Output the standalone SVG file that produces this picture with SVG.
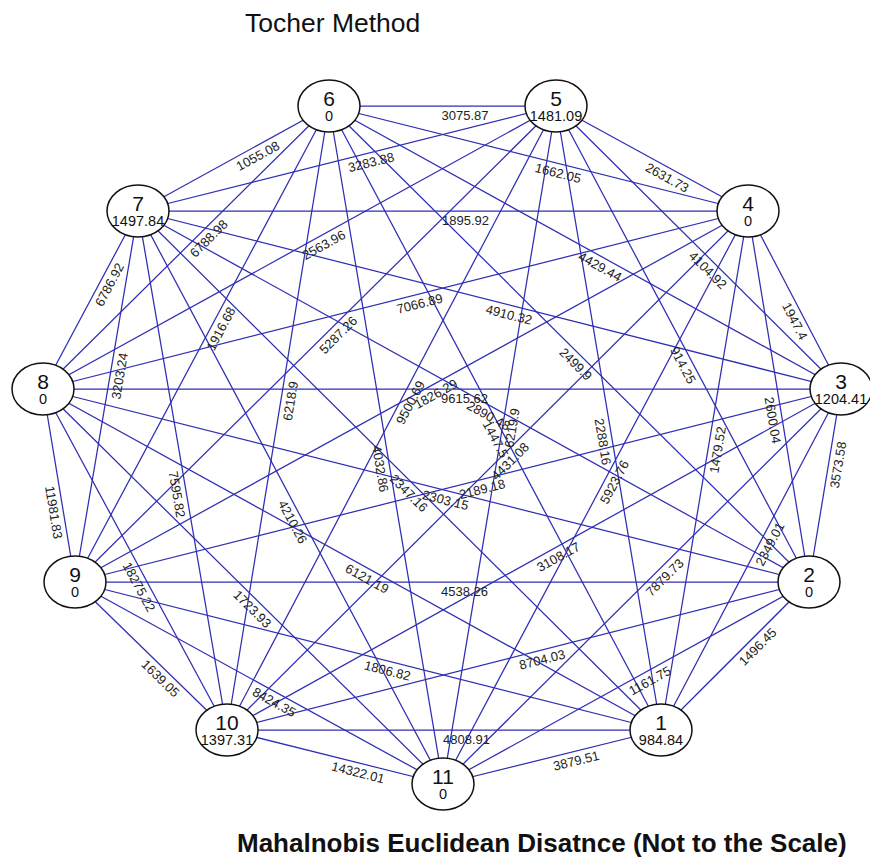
<svg xmlns="http://www.w3.org/2000/svg" width="870" height="861" viewBox="0 0 870 861">
<style>
.e line{stroke:#2e2eb4;stroke-width:1.25}
.n ellipse{fill:#fff;stroke:#111;stroke-width:1.5}
.num{font-family:"Liberation Sans",Arial,sans-serif;font-size:21px;text-anchor:middle;fill:#111}
.val{font-family:"Liberation Sans",Arial,sans-serif;font-size:14.5px;text-anchor:middle;fill:#111}
.lbl text{font-family:"Liberation Sans",Arial,sans-serif;font-size:13px;fill:#222}
.t1{font-family:"Liberation Sans",Arial,sans-serif;font-size:26.5px;fill:#111}
.t2{font-family:"Liberation Sans",Arial,sans-serif;font-size:26px;font-weight:bold;fill:#111}
</style>
<rect width="870" height="861" fill="#fff"/>
<text class="t1" x="245" y="32">Tocher Method</text>
<g id="connectors" class="e">
<line x1="661" y1="730" x2="809" y2="582"/>
<line x1="809" y1="582" x2="841" y2="389"/>
<line x1="841" y1="389" x2="748" y2="211"/>
<line x1="748" y1="211" x2="556" y2="106"/>
<line x1="556" y1="106" x2="329" y2="106"/>
<line x1="329" y1="106" x2="138" y2="211"/>
<line x1="138" y1="211" x2="43" y2="389"/>
<line x1="43" y1="389" x2="75" y2="582"/>
<line x1="75" y1="582" x2="227" y2="730"/>
<line x1="227" y1="730" x2="443" y2="784"/>
<line x1="443" y1="784" x2="661" y2="730"/>
<line x1="661" y1="730" x2="841" y2="389"/>
<line x1="809" y1="582" x2="748" y2="211"/>
<line x1="841" y1="389" x2="556" y2="106"/>
<line x1="748" y1="211" x2="329" y2="106"/>
<line x1="556" y1="106" x2="138" y2="211"/>
<line x1="329" y1="106" x2="43" y2="389"/>
<line x1="138" y1="211" x2="75" y2="582"/>
<line x1="43" y1="389" x2="227" y2="730"/>
<line x1="75" y1="582" x2="443" y2="784"/>
<line x1="227" y1="730" x2="661" y2="730"/>
<line x1="443" y1="784" x2="809" y2="582"/>
<line x1="661" y1="730" x2="748" y2="211"/>
<line x1="809" y1="582" x2="556" y2="106"/>
<line x1="841" y1="389" x2="329" y2="106"/>
<line x1="748" y1="211" x2="138" y2="211"/>
<line x1="556" y1="106" x2="43" y2="389"/>
<line x1="329" y1="106" x2="75" y2="582"/>
<line x1="138" y1="211" x2="227" y2="730"/>
<line x1="43" y1="389" x2="443" y2="784"/>
<line x1="75" y1="582" x2="661" y2="730"/>
<line x1="227" y1="730" x2="809" y2="582"/>
<line x1="443" y1="784" x2="841" y2="389"/>
<line x1="661" y1="730" x2="556" y2="106"/>
<line x1="809" y1="582" x2="329" y2="106"/>
<line x1="841" y1="389" x2="138" y2="211"/>
<line x1="748" y1="211" x2="43" y2="389"/>
<line x1="556" y1="106" x2="75" y2="582"/>
<line x1="329" y1="106" x2="227" y2="730"/>
<line x1="138" y1="211" x2="443" y2="784"/>
<line x1="43" y1="389" x2="661" y2="730"/>
<line x1="75" y1="582" x2="809" y2="582"/>
<line x1="227" y1="730" x2="841" y2="389"/>
<line x1="443" y1="784" x2="748" y2="211"/>
<line x1="661" y1="730" x2="329" y2="106"/>
<line x1="809" y1="582" x2="138" y2="211"/>
<line x1="841" y1="389" x2="43" y2="389"/>
<line x1="748" y1="211" x2="75" y2="582"/>
<line x1="556" y1="106" x2="227" y2="730"/>
<line x1="329" y1="106" x2="443" y2="784"/>
<line x1="138" y1="211" x2="661" y2="730"/>
<line x1="43" y1="389" x2="809" y2="582"/>
<line x1="75" y1="582" x2="841" y2="389"/>
<line x1="227" y1="730" x2="748" y2="211"/>
<line x1="443" y1="784" x2="556" y2="106"/>
</g>
<g id="edge-labels" class="lbl">
<text transform="translate(735,656) rotate(-45)" x="-1" y="14">1496.45</text>
<text transform="translate(825,485.5) rotate(-80.59)" x="-1" y="14">3573.58</text>
<text transform="translate(794.5,300) rotate(62.41)" x="-1" y="14">1947.4</text>
<text transform="translate(652,158.5) rotate(28.67)" x="-1" y="14">2631.73</text>
<text transform="translate(442.5,106)" x="-1" y="14">3075.87</text>
<text transform="translate(233.5,158.5) rotate(-28.8)" x="-1" y="14">1055.08</text>
<text transform="translate(90.5,300) rotate(-61.91)" x="-1" y="14">6786.92</text>
<text transform="translate(59,485.5) rotate(80.59)" x="-1" y="14">11981.83</text>
<text transform="translate(151,656) rotate(44.24)" x="-1" y="14">1639.05</text>
<text transform="translate(335,757) rotate(14.04)" x="-1" y="14">14322.01</text>
<text transform="translate(552,757) rotate(-13.91)" x="-1" y="14">3879.51</text>
<text transform="translate(751,559.5) rotate(-62.17)" x="-1" y="14">2349.01</text>
<text transform="translate(778.5,396.5) rotate(80.66)" x="-1" y="14">2600.04</text>
<text transform="translate(698.5,247.5) rotate(44.8)" x="-1" y="14">4104.92</text>
<text transform="translate(538.5,158.5) rotate(14.07)" x="-1" y="14">1662.05</text>
<text transform="translate(347,158.5) rotate(-14.1)" x="-1" y="14">3283.88</text>
<text transform="translate(186,247.5) rotate(-44.7)" x="-1" y="14">6788.98</text>
<text transform="translate(106.5,396.5) rotate(-80.36)" x="-1" y="14">3203.24</text>
<text transform="translate(135,559.5) rotate(61.65)" x="-1" y="14">18275.22</text>
<text transform="translate(259,683) rotate(28.77)" x="-1" y="14">8424.35</text>
<text transform="translate(444,730)" x="-1" y="14">4808.91</text>
<text transform="translate(626,683) rotate(-28.89)" x="-1" y="14">1161.75</text>
<text transform="translate(704.5,470.5) rotate(-80.49)" x="-1" y="14">1479.52</text>
<text transform="translate(682.5,344) rotate(62.01)" x="-1" y="14">914.25</text>
<text transform="translate(585,247.5) rotate(28.93)" x="-1" y="14">4429.44</text>
<text transform="translate(443,211)" x="-1" y="14">1895.92</text>
<text transform="translate(299.5,247.5) rotate(-28.88)" x="-1" y="14">2563.96</text>
<text transform="translate(202,344) rotate(-61.92)" x="-1" y="14">1916.68</text>
<text transform="translate(182.5,470.5) rotate(80.27)" x="-1" y="14">7595.82</text>
<text transform="translate(243,586.5) rotate(44.64)" x="-1" y="14">1723.93</text>
<text transform="translate(368,656) rotate(14.17)" x="-1" y="14">1806.82</text>
<text transform="translate(518,656) rotate(-14.27)" x="-1" y="14">8704.03</text>
<text transform="translate(642,586.5) rotate(-44.78)" x="-1" y="14">7879.73</text>
<text transform="translate(608.5,418) rotate(80.45)" x="-1" y="14">2288.16</text>
<text transform="translate(569,344) rotate(44.76)" x="-1" y="14">2499.9</text>
<text transform="translate(489.5,300) rotate(14.21)" x="-1" y="14">4910.32</text>
<text transform="translate(395.5,300) rotate(-14.17)" x="-1" y="14">7066.89</text>
<text transform="translate(315.5,344) rotate(-44.7)" x="-1" y="14">5287.26</text>
<text transform="translate(278,418) rotate(-80.72)" x="-1" y="14">6218.9</text>
<text transform="translate(290.5,497.5) rotate(61.97)" x="-1" y="14">4210.26</text>
<text transform="translate(352,559.5) rotate(28.89)" x="-1" y="14">6121.19</text>
<text transform="translate(442,582)" x="-1" y="14">4538.26</text>
<text transform="translate(534,559.5) rotate(-29.05)" x="-1" y="14">3108.17</text>
<text transform="translate(595.5,497.5) rotate(-61.97)" x="-1" y="14">5923.76</text>
<text transform="translate(495,418) rotate(61.99)" x="-1" y="14">1447.5</text>
<text transform="translate(473.5,396.5) rotate(28.94)" x="-1" y="14">2890.48</text>
<text transform="translate(442,389)" x="-1" y="14">9615.62</text>
<text transform="translate(411.5,396.5) rotate(-28.86)" x="-1" y="14">1826.29</text>
<text transform="translate(391.5,418) rotate(-62.2)" x="-1" y="14">9500.69</text>
<text transform="translate(386,445) rotate(80.46)" x="-1" y="14">4032.86</text>
<text transform="translate(399.5,470.5) rotate(44.78)" x="-1" y="14">2347.16</text>
<text transform="translate(426,485.5) rotate(14.14)" x="-1" y="14">2303.15</text>
<text transform="translate(458,485.5) rotate(-14.14)" x="-1" y="14">2189.18</text>
<text transform="translate(487.5,470.5) rotate(-44.89)" x="-1" y="14">4431.08</text>
<text transform="translate(499.5,445) rotate(-80.54)" x="-1" y="14">6219.9</text>
</g>
<g id="node1" class="n"><ellipse cx="661" cy="730" rx="31" ry="26"/><text class="num" x="661" y="730">1</text><text class="val" x="661" y="745">984.84</text></g>
<g id="node2" class="n"><ellipse cx="809" cy="582" rx="31" ry="26"/><text class="num" x="809" y="582">2</text><text class="val" x="809" y="597">0</text></g>
<g id="node3" class="n"><ellipse cx="841" cy="389" rx="31" ry="26"/><text class="num" x="841" y="389">3</text><text class="val" x="841" y="404">1204.41</text></g>
<g id="node4" class="n"><ellipse cx="748" cy="211" rx="31" ry="26"/><text class="num" x="748" y="211">4</text><text class="val" x="748" y="226">0</text></g>
<g id="node5" class="n"><ellipse cx="556" cy="106" rx="31" ry="26"/><text class="num" x="556" y="106">5</text><text class="val" x="556" y="121">1481.09</text></g>
<g id="node6" class="n"><ellipse cx="329" cy="106" rx="31" ry="26"/><text class="num" x="329" y="106">6</text><text class="val" x="329" y="121">0</text></g>
<g id="node7" class="n"><ellipse cx="138" cy="211" rx="31" ry="26"/><text class="num" x="138" y="211">7</text><text class="val" x="138" y="226">1497.84</text></g>
<g id="node8" class="n"><ellipse cx="43" cy="389" rx="31" ry="26"/><text class="num" x="43" y="389">8</text><text class="val" x="43" y="404">0</text></g>
<g id="node9" class="n"><ellipse cx="75" cy="582" rx="31" ry="26"/><text class="num" x="75" y="582">9</text><text class="val" x="75" y="597">0</text></g>
<g id="node10" class="n"><ellipse cx="227" cy="730" rx="31" ry="26"/><text class="num" x="227" y="730">10</text><text class="val" x="227" y="745">1397.31</text></g>
<g id="node11" class="n"><ellipse cx="443" cy="784" rx="31" ry="26"/><text class="num" x="443" y="784">11</text><text class="val" x="443" y="799">0</text></g>
<text class="t2" x="237" y="852">Mahalnobis Euclidean Disatnce (Not to the Scale)</text>
</svg>
